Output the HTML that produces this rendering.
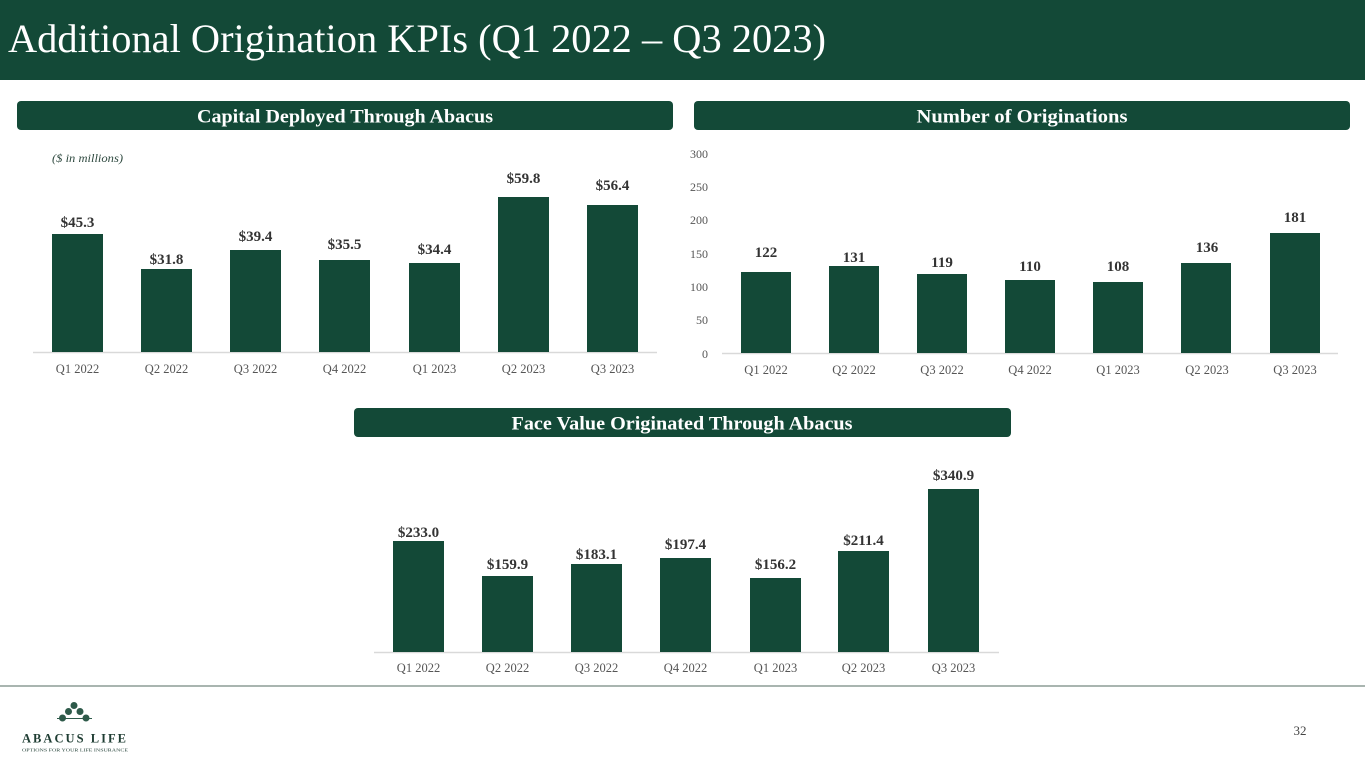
<!DOCTYPE html>
<html>
<head>
<meta charset="utf-8">
<style>
html,body{margin:0;padding:0;background:#fff;}
svg{display:block;}
text{font-family:"Liberation Serif",serif;}
</style>
</head>
<body>
<svg width="1365" height="768" viewBox="0 0 1365 768" xmlns="http://www.w3.org/2000/svg">
  <!-- Header -->
  <rect x="0" y="0" width="1365" height="80" fill="#134937"/>
  <text x="8" y="52" font-size="40" fill="#ffffff" textLength="818" lengthAdjust="spacingAndGlyphs">Additional Origination KPIs (Q1 2022 – Q3 2023)</text>

  <!-- Section pills -->
  <rect x="17" y="101" width="656" height="29" rx="4" fill="#134937"/>
  <text x="345" y="122.5" font-size="19" font-weight="bold" fill="#fff" text-anchor="middle" textLength="296" lengthAdjust="spacingAndGlyphs">Capital Deployed Through Abacus</text>
  <rect x="694" y="101" width="656" height="29" rx="4" fill="#134937"/>
  <text x="1022" y="122.5" font-size="19" font-weight="bold" fill="#fff" text-anchor="middle" textLength="211" lengthAdjust="spacingAndGlyphs">Number of Originations</text>
  <rect x="354" y="408" width="657" height="29" rx="4" fill="#134937"/>
  <text x="682" y="429.5" font-size="19" font-weight="bold" fill="#fff" text-anchor="middle" textLength="341" lengthAdjust="spacingAndGlyphs">Face Value Originated Through Abacus</text>

  <!-- Left chart -->
  <text x="52" y="162" font-size="11.5" font-style="italic" fill="#2f4a40" textLength="71" lengthAdjust="spacingAndGlyphs">($ in millions)</text>
  <line x1="33" y1="352.5" x2="657" y2="352.5" stroke="#d9d9d9" stroke-width="1.5"/>
  <g fill="#134937">
    <rect x="52" y="234" width="51" height="118"/>
    <rect x="141" y="269" width="51" height="83"/>
    <rect x="230" y="250" width="51" height="102"/>
    <rect x="319" y="260" width="51" height="92"/>
    <rect x="409" y="263" width="51" height="89"/>
    <rect x="498" y="197" width="51" height="155"/>
    <rect x="587" y="205" width="51" height="147"/>
  </g>
  <g font-size="15" font-weight="bold" fill="#333" text-anchor="middle">
    <text x="77.5" y="227">$45.3</text>
    <text x="166.5" y="264">$31.8</text>
    <text x="255.5" y="241">$39.4</text>
    <text x="344.5" y="249">$35.5</text>
    <text x="434.5" y="254">$34.4</text>
    <text x="523.5" y="183">$59.8</text>
    <text x="612.5" y="190">$56.4</text>
  </g>
  <g font-size="12.5" fill="#555" text-anchor="middle">
    <text x="77.5" y="373">Q1 2022</text>
    <text x="166.5" y="373">Q2 2022</text>
    <text x="255.5" y="373">Q3 2022</text>
    <text x="344.5" y="373">Q4 2022</text>
    <text x="434.5" y="373">Q1 2023</text>
    <text x="523.5" y="373">Q2 2023</text>
    <text x="612.5" y="373">Q3 2023</text>
  </g>

  <!-- Right chart -->
  <g font-size="12" fill="#555" text-anchor="end">
    <text x="708" y="158">300</text>
    <text x="708" y="191">250</text>
    <text x="708" y="224">200</text>
    <text x="708" y="258">150</text>
    <text x="708" y="291">100</text>
    <text x="708" y="324">50</text>
    <text x="708" y="358">0</text>
  </g>
  <line x1="722" y1="353.5" x2="1338" y2="353.5" stroke="#d9d9d9" stroke-width="1.5"/>
  <g fill="#134937">
    <rect x="741" y="272" width="50" height="81"/>
    <rect x="829" y="266" width="50" height="87"/>
    <rect x="917" y="274" width="50" height="79"/>
    <rect x="1005" y="280" width="50" height="73"/>
    <rect x="1093" y="282" width="50" height="71"/>
    <rect x="1181" y="263" width="50" height="90"/>
    <rect x="1270" y="233" width="50" height="120"/>
  </g>
  <g font-size="15" font-weight="bold" fill="#333" text-anchor="middle">
    <text x="766" y="257">122</text>
    <text x="854" y="262">131</text>
    <text x="942" y="267">119</text>
    <text x="1030" y="271">110</text>
    <text x="1118" y="271">108</text>
    <text x="1207" y="252">136</text>
    <text x="1295" y="222">181</text>
  </g>
  <g font-size="12.5" fill="#555" text-anchor="middle">
    <text x="766" y="374">Q1 2022</text>
    <text x="854" y="374">Q2 2022</text>
    <text x="942" y="374">Q3 2022</text>
    <text x="1030" y="374">Q4 2022</text>
    <text x="1118" y="374">Q1 2023</text>
    <text x="1207" y="374">Q2 2023</text>
    <text x="1295" y="374">Q3 2023</text>
  </g>

  <!-- Bottom chart -->
  <line x1="374" y1="652.5" x2="999" y2="652.5" stroke="#d9d9d9" stroke-width="1.5"/>
  <g fill="#134937">
    <rect x="393" y="541" width="51" height="111"/>
    <rect x="482" y="576" width="51" height="76"/>
    <rect x="571" y="564" width="51" height="88"/>
    <rect x="660" y="558" width="51" height="94"/>
    <rect x="750" y="578" width="51" height="74"/>
    <rect x="838" y="551" width="51" height="101"/>
    <rect x="928" y="489" width="51" height="163"/>
  </g>
  <g font-size="15" font-weight="bold" fill="#333" text-anchor="middle">
    <text x="418.5" y="537">$233.0</text>
    <text x="507.5" y="569">$159.9</text>
    <text x="596.5" y="559">$183.1</text>
    <text x="685.5" y="549">$197.4</text>
    <text x="775.5" y="569">$156.2</text>
    <text x="863.5" y="545">$211.4</text>
    <text x="953.5" y="480">$340.9</text>
  </g>
  <g font-size="12.5" fill="#555" text-anchor="middle">
    <text x="418.5" y="672">Q1 2022</text>
    <text x="507.5" y="672">Q2 2022</text>
    <text x="596.5" y="672">Q3 2022</text>
    <text x="685.5" y="672">Q4 2022</text>
    <text x="775.5" y="672">Q1 2023</text>
    <text x="863.5" y="672">Q2 2023</text>
    <text x="953.5" y="672">Q3 2023</text>
  </g>

  <!-- Footer rule -->
  <rect x="0" y="685" width="1365" height="2" fill="#a9b5b0"/>

  <!-- Logo -->
  <g fill="#2e5a4a">
    <line x1="57" y1="718.5" x2="92" y2="718.5" stroke="#2e5a4a" stroke-width="1"/>
    <circle cx="74" cy="705.5" r="3.5"/>
    <circle cx="68.5" cy="711.5" r="3.5"/>
    <circle cx="80" cy="711.5" r="3.5"/>
    <circle cx="62.5" cy="718" r="3.5"/>
    <circle cx="86" cy="718" r="3.5"/>
  </g>
  <text x="22" y="742.5" font-size="12.5" font-weight="bold" fill="#1f3d33" textLength="104" lengthAdjust="spacing">ABACUS LIFE</text>
  <text x="22" y="751.5" font-size="4.5" fill="#1f3d33" textLength="106" lengthAdjust="spacingAndGlyphs" font-family="Liberation Sans, sans-serif">OPTIONS FOR YOUR LIFE INSURANCE</text>

  <!-- Page number -->
  <text x="1300" y="735" font-size="13" fill="#444" text-anchor="middle">32</text>
</svg>
</body>
</html>
